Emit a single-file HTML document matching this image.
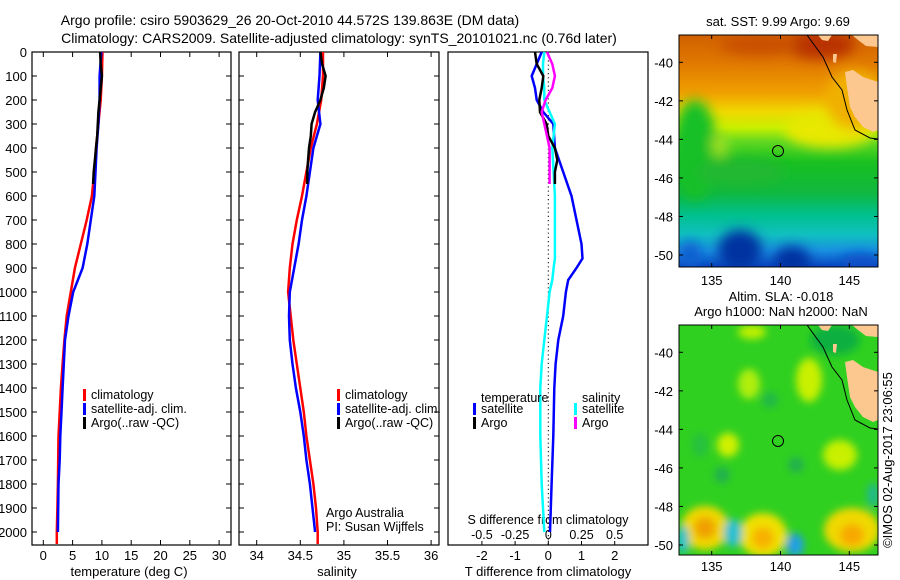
<!DOCTYPE html>
<html><head><meta charset="utf-8">
<style>
html,body{margin:0;padding:0;background:#fff;}
svg{display:block;font-family:"Liberation Sans",sans-serif;}
text{fill:#000;}
</style></head>
<body>
<svg id="fig" width="900" height="580" viewBox="0 0 900 580">
<defs>
  <clipPath id="clipA"><rect x="679" y="35" width="199" height="232"/></clipPath>
  <clipPath id="clipB"><rect x="679" y="325" width="199" height="230"/></clipPath>
  <linearGradient id="sstGrad" x1="0" y1="0" x2="0" y2="1">
    <stop offset="0" stop-color="#d06000"/>
    <stop offset="0.12" stop-color="#e07800"/>
    <stop offset="0.25" stop-color="#f0a000"/>
    <stop offset="0.33" stop-color="#f0d800"/>
    <stop offset="0.40" stop-color="#c8f000"/>
    <stop offset="0.46" stop-color="#60d820"/>
    <stop offset="0.55" stop-color="#18c020"/>
    <stop offset="0.68" stop-color="#10b840"/>
    <stop offset="0.78" stop-color="#00c090"/>
    <stop offset="0.86" stop-color="#10c0c0"/>
    <stop offset="0.93" stop-color="#1890e0"/>
    <stop offset="1" stop-color="#0840c0"/>
  </linearGradient>
  <filter id="blur6"><feGaussianBlur stdDeviation="6"/></filter>
  <filter id="blur4"><feGaussianBlur stdDeviation="4"/></filter>
</defs>

<text x="290" y="25" font-size="14" text-anchor="middle">Argo profile: csiro 5903629_26 20-Oct-2010 44.572S 139.863E (DM data)</text>
<text x="339" y="43" font-size="14" text-anchor="middle">Climatology: CARS2009. Satellite-adjusted climatology: synTS_20101021.nc (0.76d later)</text>

<g id="p1"></g>
<g id="p2"></g>
<g id="p3"></g>

<!-- SST map -->
<g>
  <text x="778" y="26" font-size="13" text-anchor="middle">sat. SST: 9.99 Argo: 9.69</text>
  <g clip-path="url(#clipA)">
    <rect x="679" y="35" width="199" height="232" fill="url(#sstGrad)"/>
    <g filter="url(#blur6)">
      <ellipse cx="695" cy="150" rx="22" ry="50" fill="#18c028"/>
      <ellipse cx="820" cy="45" rx="35" ry="14" fill="#b83000"/>
      <ellipse cx="760" cy="45" rx="40" ry="10" fill="#c85000"/>
      <ellipse cx="830" cy="130" rx="45" ry="18" fill="#e8e800"/>
      <ellipse cx="855" cy="100" rx="30" ry="30" fill="#f0b000"/>
      <ellipse cx="740" cy="172" rx="45" ry="14" fill="#20b830"/>
      <ellipse cx="720" cy="145" rx="8" ry="12" fill="#a0e020"/>
      <ellipse cx="740" cy="250" rx="22" ry="20" fill="#0030a0"/>
      <ellipse cx="792" cy="260" rx="18" ry="14" fill="#0030a0"/>
      <ellipse cx="690" cy="255" rx="12" ry="14" fill="#0860d0"/>
      <ellipse cx="860" cy="262" rx="20" ry="8" fill="#0850c8"/>
    </g>
    <path d="M845,72 L853,70 L863,77 L878,82 L878,130 L873,132 L863,127 L855,117 L850,107 L847,87 Z" fill="#fcc890"/>
    <path d="M818,35 L832,35 L828,41 L822,40 Z M852,35 L878,35 L878,47 L866,46 L858,40 Z M833,54 L837,54 L836,63 L833,62 Z" fill="#fcc890"/>
    <path d="M807,35 L823,57 L832,77 L842,90 L847,110 L855,130 L870,138 L878,139" fill="none" stroke="#000" stroke-width="1"/>
    <circle cx="778" cy="151" r="5.5" fill="none" stroke="#000" stroke-width="1"/>
  </g>
  <rect x="679" y="35" width="199" height="232" fill="none" stroke="#000" stroke-width="1"/>
  <g id="mapAaxis"></g>
</g>

<!-- SLA map -->
<g>
  <text x="781" y="301" font-size="13" text-anchor="middle">Altim. SLA: -0.018</text>
  <text x="781" y="316" font-size="13" text-anchor="middle">Argo h1000: NaN h2000: NaN</text>
  <g clip-path="url(#clipB)">
    <rect x="679" y="325" width="199" height="230" fill="#30d020"/>
    <g filter="url(#blur4)">
      <ellipse cx="752" cy="332" rx="14" ry="7" fill="#c0f000"/>
      <ellipse cx="749" cy="384" rx="11" ry="15" fill="#b0ee10"/>
      <ellipse cx="809" cy="380" rx="13" ry="22" fill="#c8f000"/>
      <ellipse cx="728" cy="445" rx="11" ry="12" fill="#d0f000"/>
      <ellipse cx="840" cy="455" rx="17" ry="15" fill="#c8f000"/>
      <ellipse cx="770" cy="400" rx="8" ry="8" fill="#20b848"/>
      <ellipse cx="722" cy="475" rx="8" ry="8" fill="#20b050"/>
      <ellipse cx="796" cy="465" rx="8" ry="8" fill="#20b050"/>
      <ellipse cx="700" cy="445" rx="8" ry="12" fill="#28c040"/>
      <ellipse cx="705" cy="528" rx="24" ry="22" fill="#f0d800"/>
      <ellipse cx="705" cy="528" rx="11" ry="11" fill="#f0a000"/>
      <ellipse cx="763" cy="535" rx="24" ry="22" fill="#f0e000"/>
      <ellipse cx="763" cy="538" rx="11" ry="11" fill="#f8b000"/>
      <ellipse cx="852" cy="530" rx="28" ry="22" fill="#f0d800"/>
      <ellipse cx="852" cy="535" rx="12" ry="11" fill="#f8a800"/>
      <ellipse cx="733" cy="533" rx="9" ry="14" fill="#20c0d0"/>
      <ellipse cx="795" cy="545" rx="9" ry="12" fill="#20a0e0"/>
      <ellipse cx="683" cy="540" rx="6" ry="14" fill="#20c0d0"/>
      <ellipse cx="873" cy="495" rx="6" ry="12" fill="#20b890"/>
      <ellipse cx="835" cy="340" rx="25" ry="15" fill="#10b040"/>
    </g>
    <path d="M845,362 L853,360 L863,367 L878,372 L878,420 L873,422 L863,417 L855,407 L850,397 L847,377 Z" fill="#fcc890"/>
    <path d="M818,325 L832,325 L828,331 L822,330 Z M852,325 L878,325 L878,337 L866,336 L858,330 Z M833,344 L837,344 L836,353 L833,352 Z" fill="#fcc890"/>
    <path d="M807,325 L823,347 L832,367 L842,380 L847,400 L855,420 L870,428 L878,429" fill="none" stroke="#000" stroke-width="1"/>
    <circle cx="778" cy="441" r="5.5" fill="none" stroke="#000" stroke-width="1"/>
  </g>
  <rect x="679" y="325" width="199" height="230" fill="none" stroke="#000" stroke-width="1"/>
  <g id="mapBaxis"></g>
  <text transform="translate(892,460) rotate(-90)" font-size="13" text-anchor="middle">©IMOS 02-Aug-2017 23:06:55</text>
</g>
</svg>

<script>
// ===== Data =====
const depthLevels = [0,100,200,300,400,500,600,700,800,900,1000,1100,1200,1300,1400,1500,1600,1700,1800,1900,2000,2050];
const tempClim    = [10.1,10.0,9.8,9.4,9.0,8.7,8.3,7.4,6.4,5.4,4.7,4.0,3.6,3.3,3.0,2.8,2.6,2.55,2.5,2.4,2.3,2.3];
const tempSat     = [9.9,9.6,9.6,9.4,9.1,8.9,8.7,8.1,7.5,6.7,5.1,4.3,3.7,3.5,3.3,3.1,2.9,2.8,2.6,2.55,2.5,2.5];
const argoDepth   = [0,50,100,150,200,250,300,350,400,450,500,550];
const tempArgo    = [9.7,9.8,10.0,9.8,9.6,9.4,9.3,9.2,9.0,8.8,8.6,8.5];
const salClim     = [34.76,34.76,34.74,34.69,34.62,34.57,34.52,34.46,34.41,34.38,34.36,34.39,34.42,34.46,34.50,34.54,34.57,34.61,34.65,34.68,34.70,34.70];
const salSat      = [34.73,34.72,34.70,34.73,34.65,34.61,34.57,34.52,34.48,34.43,34.38,34.37,34.38,34.41,34.45,34.50,34.54,34.57,34.61,34.64,34.67,34.67];
const salArgo     = [34.73,34.75,34.79,34.77,34.73,34.67,34.63,34.62,34.60,34.59,34.58,34.58];
const diffDepth   = [0,50,100,150,200,250,300,400,500,600,700,800,860,900,950,1000,1100,1200,1300,1400,1600,1800,2000];
const tDiffSat    = [-0.2,-0.35,-0.5,-0.4,-0.35,-0.15,0.15,0.2,0.45,0.7,0.85,1.0,1.03,0.85,0.6,0.53,0.45,0.3,0.22,0.18,0.15,0.1,0.05];
const sDiffSat    = [-0.03,-0.04,-0.04,-0.03,-0.03,0.01,0.05,0.03,0.04,0.05,0.05,0.05,0.05,0.04,0.03,0.01,-0.01,-0.03,-0.05,-0.06,-0.06,-0.05,-0.03];
const tDiffArgo   = [-0.4,-0.35,-0.15,-0.2,-0.27,-0.25,-0.05,0.0,0.2,0.27,0.2,0.2];
const sDiffArgo   = [-0.01,0.03,0.05,0.03,-0.02,-0.05,-0.03,-0.01,0.01,0.01,0.01,0.01];
const depthTicks  = [0,100,200,300,400,500,600,700,800,900,1000,1100,1200,1300,1400,1500,1600,1700,1800,1900,2000];
const tempTicks   = [0,5,10,15,20,25,30];
const salTicks    = [34,34.5,35,35.5,36];
const tDiffTicks  = [-2,-1,0,1,2];
const sDiffTicks  = [-0.5,-0.25,0,0.25,0.5];
const sDiffTickLabels = ['-0.5','-0.25','0','0.25','0.5'];
const lonTicks    = [135,140,145];
const latTicks    = [-40,-42,-44,-46,-48,-50];

// ===== Scales =====
const yD = d => 52 + d*0.24;
const xT = t => 43.3 + t*5.86;
const xS = s => 256.7 + (s-34)*87.2;
const xDT = t => 548.3 + t*33.2;
const xDS = s => 548.3 + s*132.8;
const xLon = l => 711.7 + (l-135)*13.76;
const yLatA = l => 62.3 + (-40-l)*19.27;
const yLatB = l => 352.3 + (-40-l)*19.27;

const NS='http://www.w3.org/2000/svg';
function mk(parent, tag, attrs, txt){
  const e=document.createElementNS(NS,tag);
  for(const k in attrs) e.setAttribute(k,attrs[k]);
  if(txt!==undefined) e.textContent=txt;
  parent.appendChild(e); return e;
}
function stepPath(vals, depths, xf){
  let d='';
  for(let i=0;i<vals.length;i++){
    const x=xf(vals[i]).toFixed(1), y=yD(depths[i]).toFixed(1);
    d += (i===0?'M':'L')+x+','+y+' ';
  }
  return d;
}
function frame(g,x0,x1){
  const r=mk(g,'rect',{x:x0,y:52,width:x1-x0,height:493,fill:'none',stroke:'#000','stroke-width':1.2});
  
  
  depthTicks.forEach(d=>{
    mk(g,'line',{x1:x0,x2:x0+5,y1:yD(d),y2:yD(d),stroke:'#000'});
    mk(g,'line',{x1:x1-5,x2:x1,y1:yD(d),y2:yD(d),stroke:'#000'});
  });
}
function line(g,vals,depths,xf,color,name){
  const p=mk(g,'path',{d:stepPath(vals,depths,xf),fill:'none',stroke:color,'stroke-width':2.5,'stroke-linejoin':'miter'});
  
  
}
function legend(g,x,y,items){
  items.forEach((it,i)=>{
    const yy=y+i*14;
    const b=mk(g,'rect',{x:x,y:yy-9,width:3,height:12,fill:it[0]});
    
    
    const t=mk(g,'text',{x:x+8,y:yy+1,'font-size':12.5},it[1]);
    
    
  });
}

// Panel 1
const p1=document.getElementById('p1');
frame(p1,32,231);
depthTicks.forEach(d=>{
  const t=mk(p1,'text',{x:27,y:yD(d)+5,'font-size':13,'text-anchor':'end'},String(d));
  
  
});
tempTicks.forEach(v=>{
  mk(p1,'line',{x1:xT(v),x2:xT(v),y1:545,y2:540,stroke:'#000'});
  mk(p1,'line',{x1:xT(v),x2:xT(v),y1:52,y2:57,stroke:'#000'});
  const t=mk(p1,'text',{x:xT(v),y:560,'font-size':13,'text-anchor':'middle'},String(v));
  
  
});
const xt1=mk(p1,'text',{x:129,y:576,'font-size':13,'text-anchor':'middle'},'temperature (deg C)');


line(p1,tempClim,depthLevels,xT,'#ff0000','temp-climatology-line');
line(p1,tempSat.slice(0,21),depthLevels.slice(0,21),xT,'#0000ff','temp-satellite-line');
line(p1,tempArgo,argoDepth,xT,'#000000','temp-argo-line');
legend(p1,83,398,[['#ff0000','climatology'],['#0000ff','satellite-adj. clim.'],['#000','Argo(..raw -QC)']]);

// Panel 2
const p2=document.getElementById('p2');
frame(p2,239,439);
salTicks.forEach(v=>{
  mk(p2,'line',{x1:xS(v),x2:xS(v),y1:545,y2:540,stroke:'#000'});
  mk(p2,'line',{x1:xS(v),x2:xS(v),y1:52,y2:57,stroke:'#000'});
  const t=mk(p2,'text',{x:xS(v),y:560,'font-size':13,'text-anchor':'middle'},String(v));
  
  
});
const xt2=mk(p2,'text',{x:337,y:576,'font-size':13,'text-anchor':'middle'},'salinity');


line(p2,salClim,depthLevels,xS,'#ff0000','sal-climatology-line');
line(p2,salSat.slice(0,21),depthLevels.slice(0,21),xS,'#0000ff','sal-satellite-line');
line(p2,salArgo,argoDepth,xS,'#000000','sal-argo-line');
legend(p2,337,398,[['#ff0000','climatology'],['#0000ff','satellite-adj. clim.'],['#000','Argo(..raw -QC)']]);
const c1=mk(p2,'text',{x:326,y:517,'font-size':12.5},'Argo Australia');


const c2=mk(p2,'text',{x:326,y:531,'font-size':12.5},'PI: Susan Wijffels');



// Panel 3
const p3=document.getElementById('p3');
const r3=mk(p3,'rect',{x:448,y:52,width:200,height:493,fill:'none',stroke:'#000','stroke-width':1.2});


mk(p3,'line',{x1:xDT(0),x2:xDT(0),y1:52,y2:545,stroke:'#000','stroke-dasharray':'1.2,3'});
tDiffTicks.forEach(v=>{
  mk(p3,'line',{x1:xDT(v),x2:xDT(v),y1:545,y2:541,stroke:'#000'});
  const t=mk(p3,'text',{x:xDT(v),y:560,'font-size':13,'text-anchor':'middle'},String(v));
  
  
});
sDiffTicks.forEach((v,i)=>{
  const t=mk(p3,'text',{x:xDS(v),y:539,'font-size':12.5,'text-anchor':'middle'},sDiffTickLabels[i]);
  
  
});
const st=mk(p3,'text',{x:548,y:524,'font-size':12.5,'text-anchor':'middle'},'S difference from climatology');


const tt=mk(p3,'text',{x:548,y:576,'font-size':13,'text-anchor':'middle'},'T difference from climatology');


line(p3,tDiffSat,diffDepth,xDT,'#0000ff','t-diff-satellite-line');
line(p3,sDiffSat,diffDepth,xDS,'#00ffff','s-diff-satellite-line');
line(p3,tDiffArgo,argoDepth,xDT,'#000000','t-diff-argo-line');
line(p3,sDiffArgo,argoDepth,xDS,'#ff00ff','s-diff-argo-line');
const lt=mk(p3,'text',{x:481,y:402,'font-size':12.5},'temperature');


const ls=mk(p3,'text',{x:582,y:402,'font-size':12.5},'salinity');


legend(p3,473,412,[['#0000ff','satellite'],['#000','Argo']]);
legend(p3,574,412,[['#00ffff','satellite'],['#ff00ff','Argo']]);

// Map axes
function mapAxes(g,y0,y1,yLat,labelY){
  lonTicks.forEach(l=>{
    mk(g,'line',{x1:xLon(l),x2:xLon(l),y1:y1,y2:y1-4,stroke:'#000'});
    mk(g,'line',{x1:xLon(l),x2:xLon(l),y1:y0,y2:y0+4,stroke:'#000'});
    const t=mk(g,'text',{x:xLon(l),y:labelY,'font-size':13,'text-anchor':'middle'},String(l));
    
    
  });
  latTicks.forEach(l=>{
    mk(g,'line',{x1:679,x2:683,y1:yLat(l),y2:yLat(l),stroke:'#000'});
    mk(g,'line',{x1:874,x2:878,y1:yLat(l),y2:yLat(l),stroke:'#000'});
    const t=mk(g,'text',{x:673,y:yLat(l)+5,'font-size':13,'text-anchor':'end'},String(l));
    
    
  });
}
mapAxes(document.getElementById('mapAaxis'),35,267,yLatA,285);
mapAxes(document.getElementById('mapBaxis'),325,555,yLatB,571);
</script>
</body></html>
